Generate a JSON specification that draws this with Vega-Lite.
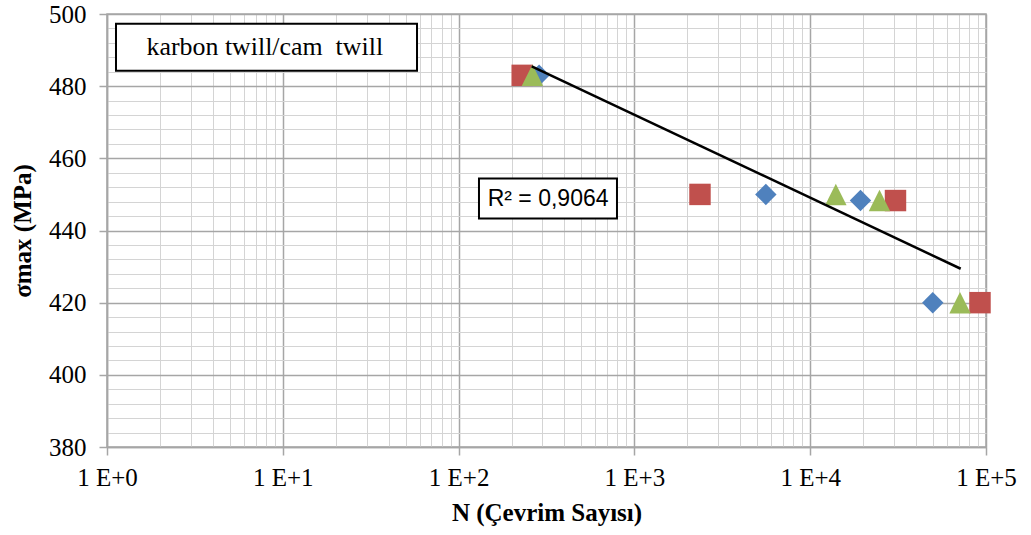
{
  "$schema": "https://vega.github.io/schema/vega-lite/v6.json",
  "width": 879,
  "height": 433,
  "autosize": {"type": "none"},
  "padding": {"left": 107, "top": 14, "right": 45, "bottom": 88},
  "background": "white",
  "config": {
    "view": {"stroke": "#a6a6a6", "strokeWidth": 1.5},
    "font": "Liberation Serif"
  },
  "datasets": {
    "points": [
      {"N": 287, "S": 483, "series": "A"},
      {"N": 5594, "S": 450, "series": "A"},
      {"N": 19320, "S": 448.3, "series": "A"},
      {"N": 49800, "S": 420, "series": "A"},
      {"N": 230, "S": 483, "series": "B"},
      {"N": 2361, "S": 450, "series": "B"},
      {"N": 30560, "S": 448.3, "series": "B"},
      {"N": 92450, "S": 420, "series": "B"},
      {"N": 263, "S": 483, "series": "C"},
      {"N": 13990, "S": 450, "series": "C"},
      {"N": 24780, "S": 448.3, "series": "C"},
      {"N": 71160, "S": 420, "series": "C"}
    ],
    "trend": [
      {"N": 260.6, "S": 485.5},
      {"N": 71800, "S": 429.4}
    ],
    "boxes": [
      {"name": "title", "x1": 1.125, "x2": 58, "y1": 497.3, "y2": 484.3},
      {"name": "r2", "x1": 130.6, "x2": 796, "y1": 454.4, "y2": 443.3}
    ],
    "notes": [
      {"name": "title", "N": 7.9, "S": 490.9, "label": "karbon twill/cam\u00a0 twill"},
      {"name": "r2", "N": 323, "S": 448.8, "label": "R² = 0,9064"}
    ]
  },
  "layer": [
    {
      "data": {"name": "points"},
      "mark": {"type": "point", "filled": true, "opacity": 1, "size": 460, "strokeWidth": 0},
      "encoding": {
        "x": {
          "field": "N", "type": "quantitative",
          "scale": {"type": "log", "domain": [1, 100000], "nice": false},
          "axis": {
            "title": "N (Çevrim Sayısı)",
            "titleFont": "Liberation Serif", "titleFontSize": 25, "titleFontWeight": "bold", "titleColor": "#000000",
            "titlePadding": 10,
            "tickCount": 500,
            "values": [1,2,3,4,5,6,7,8,9,10,20,30,40,50,60,70,80,90,100,200,300,400,500,600,700,800,900,1000,2000,3000,4000,5000,6000,7000,8000,9000,10000,20000,30000,40000,50000,60000,70000,80000,90000,100000],
            "labelExpr": "abs(log(datum.value)/LN10 - round(log(datum.value)/LN10)) < 0.000001 ? '1 E+' + round(log(datum.value)/LN10) : ''",
            "labelFont": "Liberation Serif", "labelFontSize": 25, "labelColor": "#000000",
            "labelOverlap": false, "labelFlush": false, "labelPadding": 10,
            "tickSize": {"condition": {"test": "abs(log(datum.value)/LN10 - round(log(datum.value)/LN10)) < 0.000001", "value": 8}, "value": 0},
            "tickColor": "#a6a6a6", "tickWidth": 1.5,
            "domainColor": "#a6a6a6", "domainWidth": 1.5,
            "grid": true,
            "gridColor": {"condition": {"test": "abs(log(datum.value)/LN10 - round(log(datum.value)/LN10)) < 0.000001", "value": "#a6a6a6"}, "value": "#d4d4d4"},
            "gridWidth": {"condition": {"test": "abs(log(datum.value)/LN10 - round(log(datum.value)/LN10)) < 0.000001", "value": 1.5}, "value": 1}
          }
        },
        "y": {
          "field": "S", "type": "quantitative",
          "scale": {"domain": [380, 500], "nice": false, "zero": false},
          "axis": {
            "title": "σmax (MPa)",
            "titleFont": "Liberation Serif", "titleFontSize": 25, "titleFontWeight": "bold", "titleColor": "#000000",
            "titlePadding": 13,
            "tickCount": 500,
            "values": [380,384,388,392,396,400,404,408,412,416,420,424,428,432,436,440,444,448,452,456,460,464,468,472,476,480,484,488,492,496,500],
            "labelExpr": "datum.value % 20 === 0 ? '' + datum.value : ''",
            "labelFont": "Liberation Serif", "labelFontSize": 25, "labelColor": "#000000",
            "labelOverlap": false, "labelFlush": false, "labelPadding": 13,
            "tickSize": {"condition": {"test": "datum.value % 20 === 0", "value": 8}, "value": 0},
            "tickColor": "#a6a6a6", "tickWidth": 1.5,
            "domainColor": "#a6a6a6", "domainWidth": 1.5,
            "grid": true,
            "gridColor": {"condition": {"test": "datum.value % 20 === 0", "value": "#a6a6a6"}, "value": "#d4d4d4"},
            "gridWidth": {"condition": {"test": "datum.value % 20 === 0", "value": 1.5}, "value": 1}
          }
        },
        "shape": {
          "field": "series", "type": "nominal",
          "scale": {"domain": ["A", "B", "C"], "range": ["diamond", "square", "M0,-1L1,1L-1,1Z"]},
          "legend": null
        },
        "color": {
          "field": "series", "type": "nominal",
          "scale": {"domain": ["A", "B", "C"], "range": ["#4F81BD", "#C0504D", "#9BBB59"]},
          "legend": null
        }
      }
    },
    {
      "data": {"name": "trend"},
      "mark": {"type": "line", "color": "#000000", "strokeWidth": 2.5},
      "encoding": {
        "x": {"field": "N", "type": "quantitative"},
        "y": {"field": "S", "type": "quantitative"}
      }
    },
    {
      "data": {"name": "boxes"},
      "mark": {"type": "rect", "fill": "#ffffff", "stroke": "#000000", "strokeWidth": 2},
      "encoding": {
        "x": {"field": "x1", "type": "quantitative"},
        "x2": {"field": "x2"},
        "y": {"field": "y1", "type": "quantitative"},
        "y2": {"field": "y2"}
      }
    },
    {
      "data": {"name": "notes"},
      "transform": [{"filter": "datum.name === 'title'"}],
      "mark": {"type": "text", "font": "Liberation Serif", "fontSize": 25.9, "color": "#000000", "align": "center", "baseline": "middle"},
      "encoding": {
        "x": {"field": "N", "type": "quantitative"},
        "y": {"field": "S", "type": "quantitative"},
        "text": {"field": "label"}
      }
    },
    {
      "data": {"name": "notes"},
      "transform": [{"filter": "datum.name === 'r2'"}],
      "mark": {"type": "text", "font": "Liberation Sans", "fontSize": 23, "color": "#000000", "align": "center", "baseline": "middle"},
      "encoding": {
        "x": {"field": "N", "type": "quantitative"},
        "y": {"field": "S", "type": "quantitative"},
        "text": {"field": "label"}
      }
    }
  ]
}
